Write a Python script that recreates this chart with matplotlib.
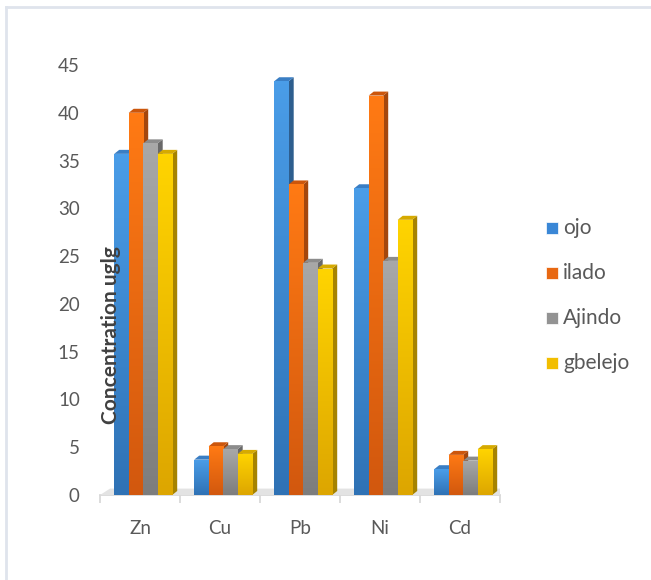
import matplotlib
matplotlib.use("Agg")
import matplotlib.pyplot as plt
import numpy as np
from matplotlib.patches import Polygon, Rectangle
from matplotlib.lines import Line2D

plt.rcParams['font.family'] = ['Lato', 'DejaVu Sans']

# ---------------- data ----------------
metals = ["Zn", "Cu", "Pb", "Ni", "Cd"]
series_names = ["ojo", "ilado", "Ajindo", "gbelejo"]
ojo = [35.7, 3.7, 43.3, 32.1, 2.7]
ilado = [40.0, 5.1, 32.5, 41.8, 4.2]
ajindo = [36.8, 4.8, 24.3, 24.5, 3.6]
gbelejo = [35.7, 4.3, 23.7, 28.8, 4.8]
values = [ojo, ilado, ajindo, gbelejo]
y_ticks = [0, 5, 10, 15, 20, 25, 30, 35, 40, 45]
y_label = "Concentration uglg"

# ---------------- styles ----------------
front_top = ["#4A9DE8", "#FF7A14", "#A8A8A8", "#FFD400"]
front_bot = ["#2F72B5", "#D2580E", "#7D7D7D", "#DDA600"]
side_col = ["#2E5E8E", "#A4470D", "#696969", "#A68300"]
top_col = ["#3A7EC4", "#CC560B", "#8C8C8C", "#D6AA00"]
legend_col = ["#3A87D6", "#E86812", "#939393", "#F2BE00"]

W, H, DPI = 651, 580, 100
fig = plt.figure(figsize=(W / DPI, H / DPI), dpi=DPI)
fig.patch.set_facecolor("white")

ax_l, ax_r, ax_b, ax_t = 100, 500, 495, 65
ax = fig.add_axes([ax_l / W, 1 - ax_b / H, (ax_r - ax_l) / W, (ax_b - ax_t) / H])
ax.set_xlim(-0.5, len(metals) - 0.5)
ax.set_ylim(0, 45)

px_x = (ax_r - ax_l) / len(metals)      # pixels per x unit
px_y = (ax_b - ax_t) / 45.0             # pixels per y unit
dx = 5 / px_x
dy = 4 / px_y
bw = 14.5 / px_x
offset = 0.04

x = np.arange(len(metals))

# floor shadow
floor = Polygon([(-0.5, 0), (-0.5 + 2 * dx, 1.6 * dy), (len(metals) - 0.5 + 2 * dx, 1.6 * dy),
                 (len(metals) - 0.5, 0)], closed=True, facecolor="#e3e3e3", edgecolor="none", zorder=1)
ax.add_patch(floor)

z = 2
for gi in range(len(metals)):
    for si in range(len(series_names)):
        v = values[si][gi]
        x0 = x[gi] + offset - 2 * bw + si * bw
        x1 = x0 + bw
        side = Polygon([(x1, 0), (x1 + dx, dy), (x1 + dx, v + dy), (x1, v)], closed=True,
                       facecolor=side_col[si], edgecolor="none", zorder=z)
        ax.add_patch(side)
        top = Polygon([(x0, v), (x0 + dx, v + dy), (x1 + dx, v + dy), (x1, v)], closed=True,
                      facecolor=top_col[si], edgecolor="none", zorder=z)
        ax.add_patch(top)
        bars = ax.bar(x0, v, width=bw, align="edge", color=front_bot[si], edgecolor="none", zorder=z + 0.5)
        rect = bars[0]
        c1 = np.array(matplotlib.colors.to_rgb(front_top[si]))
        c2 = np.array(matplotlib.colors.to_rgb(front_bot[si]))
        t = np.linspace(0, 1, 64)[:, None]
        grad = (c1 * (1 - t) + c2 * t)[:, None, :]
        im = ax.imshow(grad, extent=(x0, x1, 0, v), origin="upper", aspect="auto",
                       interpolation="bilinear", zorder=z + 0.6)
        im.set_clip_path(rect)
        z += 1

ax.set_xlim(-0.5, len(metals) - 0.5)
ax.set_ylim(0, 45)

for s in ["top", "right", "left"]:
    ax.spines[s].set_visible(False)
ax.spines["bottom"].set_color("#d9d9d9")
ax.spines["bottom"].set_linewidth(1.3)
ax.spines["bottom"].set_zorder(0.5)

ax.set_yticks(y_ticks)
ax.set_yticklabels([str(v) for v in y_ticks])
ax.tick_params(axis="y", length=0, pad=14.5, labelsize=13.5, labelcolor="#595959")
ax.set_xticks(x)
ax.set_xticklabels(metals)
ax.tick_params(axis="x", length=0, pad=18, labelsize=13.5, labelcolor="#595959")
ax.set_xticks(np.arange(-0.5, len(metals), 1.0), minor=True)
ax.tick_params(axis="x", which="minor", length=6, width=1.3, color="#d9d9d9")
ax.set_facecolor("none")

# y-axis title (drawn over bars)
fig.text(111 / W, 1 - 335 / H, y_label, rotation=90, ha="center", va="center",
         fontsize=15, fontweight="bold", color="#404040", zorder=100)

# legend (manual)
leg_y = [228, 273, 318, 363]
for si, name in enumerate(series_names):
    yy = leg_y[si]
    fig.patches.append(Rectangle((546 / W, 1 - (yy + 6) / H), 12 / W, 12 / H, transform=fig.transFigure,
                                 facecolor=legend_col[si], edgecolor="#ffffff", linewidth=0.5))
    fig.text(563 / W, 1 - yy / H, name, ha="left", va="center", fontsize=15, color="#595959")

# chart border (top and left)
fig.add_artist(Line2D([6 / W, 1], [1 - 7 / H, 1 - 7 / H], transform=fig.transFigure, color="#dfe4ec", lw=2))
fig.add_artist(Line2D([6 / W, 6 / W], [0, 1 - 7 / H], transform=fig.transFigure, color="#dfe4ec", lw=2))

fig.savefig("out.png", dpi=DPI)
